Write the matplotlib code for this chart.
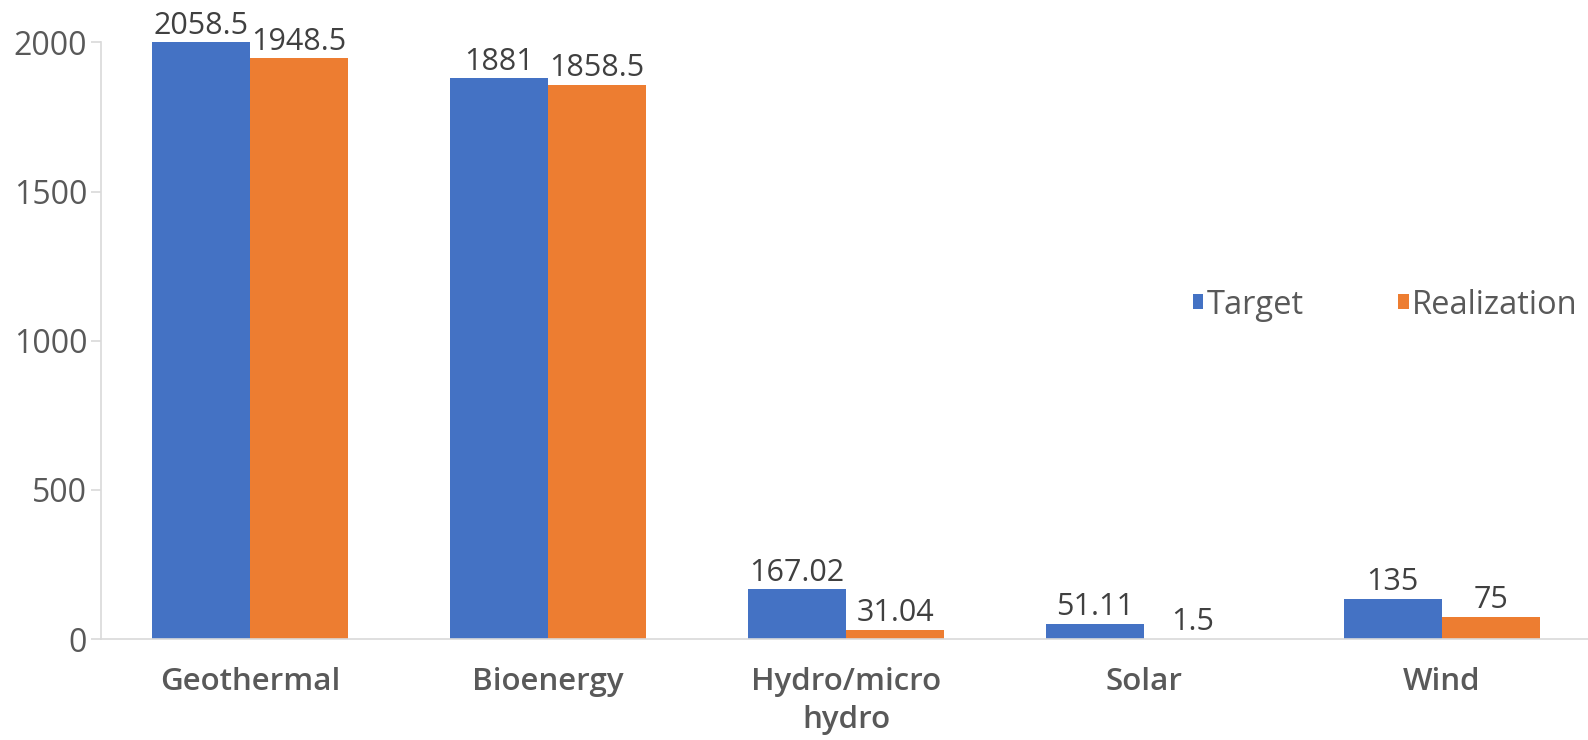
import matplotlib
matplotlib.use("Agg")
import matplotlib.pyplot as plt
import numpy as np

# renewable capacity: target vs realization
categories = ["Geothermal", "Bioenergy", "Hydro/micro\nhydro", "Solar", "Wind"]
target = [2058.5, 1881, 167.02, 51.11, 135]
realization = [1948.5, 1858.5, 31.04, 1.5, 75]
target_lbl = ["2058.5", "1881", "167.02", "51.11", "135"]
real_lbl = ["1948.5", "1858.5", "31.04", "1.5", "75"]
yticks = [0, 500, 1000, 1500, 2000]

BLUE = "#4472C4"; ORANGE = "#ED7D31"; GREY = "#595959"; AXC = "#D9D9D9"
plt.rcParams["font.family"] = ["Open Sans", "DejaVu Sans"]

fig = plt.figure(figsize=(15.88, 7.40), dpi=100)
ax = fig.add_axes([101/1588, 1-639/740, (1591-101)/1588, (639-42.5)/740])

x = np.arange(len(categories)); w = 0.33
b1 = ax.bar(x - w/2, target, w, color=BLUE, label="Target")
b2 = ax.bar(x + w/2, realization, w, color=ORANGE, label="Realization")
ax.set_xlim(-0.5, len(categories) - 0.5)
ax.set_ylim(0, 2000)

ymax = ax.get_ylim()[1]
for bars, labels in ((b1, target_lbl), (b2, real_lbl)):
    for r, t in zip(bars, labels):
        ax.annotate(t, (r.get_x() + r.get_width()/2, min(r.get_height(), ymax)),
                    xytext=(0, 6), textcoords="offset points", ha="center", va="baseline",
                    fontsize=22, color="#404040", annotation_clip=False)

for s in ["top", "right"]: ax.spines[s].set_visible(False)
ax.spines["left"].set_color(AXC); ax.spines["bottom"].set_color(AXC)
ax.spines["left"].set_linewidth(1.2); ax.spines["bottom"].set_linewidth(1.2)
ax.set_yticks(yticks)
ax.tick_params(axis="y", length=7, width=1.2, color=AXC, pad=3, labelsize=23, labelcolor=GREY)
ax.tick_params(axis="x", length=0, pad=20)
ax.set_xticks(x)
ax.set_xticklabels(categories, fontsize=22.5, fontweight="semibold", color=GREY, linespacing=1.35)

fig.legend(handles=[b1, b2], loc="center left", bbox_to_anchor=(1193/1588, 1-305/740),
           ncol=2, frameon=False, fontsize=23.5, labelcolor=GREY, handlelength=0.32,
           handleheight=0.32, handletextpad=0.1, columnspacing=2.9, borderpad=0, borderaxespad=0)

fig.savefig("out.png", dpi=100)
